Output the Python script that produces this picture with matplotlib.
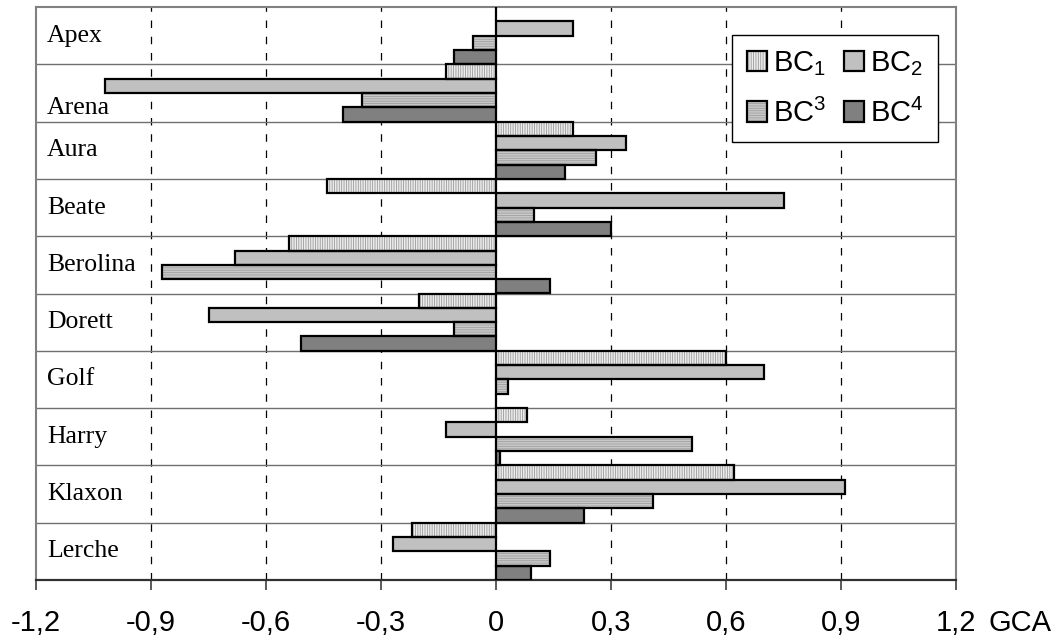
import matplotlib
matplotlib.use('Agg')
import matplotlib.pyplot as plt
import numpy as np

plt.rcParams['font.family'] = ['Liberation Sans', 'DejaVu Sans']
plt.rcParams['mathtext.fontset'] = 'custom'
plt.rcParams['mathtext.rm'] = 'Liberation Sans'
plt.rcParams['mathtext.it'] = 'Liberation Sans'
plt.rcParams['hatch.linewidth'] = 0.6

# Sorten und GCA-Werte je Testerpaar
sorten = ["Apex", "Arena", "Aura", "Beate", "Berolina", "Dorett", "Golf", "Harry", "Klaxon", "Lerche"]
bc1 = [0.00, -0.13, 0.20, -0.44, -0.54, -0.20, 0.60, 0.08, 0.62, -0.22]
bc2 = [0.20, -1.02, 0.34, 0.75, -0.68, -0.75, 0.70, -0.13, 0.91, -0.27]
bc3 = [-0.06, -0.35, 0.26, 0.10, -0.87, -0.11, 0.03, 0.51, 0.41, 0.14]
bc4 = [-0.11, -0.40, 0.18, 0.30, 0.14, -0.51, 0.00, 0.01, 0.23, 0.09]
labels = [r"BC$_1$", r"BC$_2$", r"BC$^3$", r"BC$^4$"]
xticks = [-1.2, -0.9, -0.6, -0.3, 0, 0.3, 0.6, 0.9, 1.2]

styles = [
    dict(color='#ececec', hatch='|||||||', hcol='#9a9a9a'),
    dict(color='#c0c0c0', hatch=None, hcol='#c0c0c0'),
    dict(color='#c8c8c8', hatch='-------', hcol='#a0a0a0'),
    dict(color='#808080', hatch=None, hcol='#808080'),
]

fig = plt.figure(figsize=(10.56, 6.41), dpi=100)
ax = fig.add_axes([36/1056, 1-580/641, 920/1056, 573/641])

y = np.arange(len(sorten))
h = 0.25
handles = []
for k, vals in enumerate([bc1, bc2, bc3, bc4]):
    pos = y - 0.375 + k*h
    st = styles[k]
    b1 = ax.barh(pos, vals, height=h, color=st['color'], hatch=st['hatch'],
                 edgecolor=st['hcol'], linewidth=0, zorder=3)
    b2 = ax.barh(pos, vals, height=h, fill=False, edgecolor='black',
                 linewidth=1.6, zorder=4)
    handles.append((b1.patches[0], b2.patches[0]))

# Trennlinien zwischen den Sorten
for i in range(len(sorten) - 1):
    ax.axhline(i + 0.5, color='#707070', lw=1.0, zorder=2)

# gestrichelte Gitterlinien
for gx in [-0.9, -0.6, -0.3, 0.3, 0.6, 0.9]:
    ax.axvline(gx, color='black', lw=0.9, ls=(0, (6, 7)), zorder=1)
ax.axvline(0, color='black', lw=1.4, zorder=5)

ax.set_xlim(-1.2, 1.2)
ax.set_ylim(len(sorten) - 0.5, -0.5)
ax.set_yticks([])
ax.set_xticks(xticks)
ax.set_xticklabels([('%g' % t).replace('.', ',') for t in xticks], fontsize=21)
ax.tick_params(axis='x', length=7, width=1.2, color='#404040', pad=14)

for s in ['left', 'top', 'right']:
    ax.spines[s].set_color('#808080')
    ax.spines[s].set_linewidth(1.5)
ax.spines['bottom'].set_color('#303030')
ax.spines['bottom'].set_linewidth(1.6)

# Sortennamen
for i, name in enumerate(sorten):
    yy = i + 0.27 if name == "Arena" else i
    ax.text(0.012, yy, name, transform=ax.get_yaxis_transform(), ha='left', va='center',
            fontsize=18.5, family=['Liberation Serif', 'DejaVu Serif'], zorder=6)

# Legende zeilenweise: BC1 BC2 / BC3 BC4
order = [0, 2, 1, 3]
leg = ax.legend([handles[i] for i in order], [labels[i] for i in order], ncol=2,
                loc='upper left', bbox_to_anchor=(0.757, 0.952),
                fontsize=21, frameon=True, fancybox=False, edgecolor='black',
                handlelength=0.7, handleheight=0.7, handletextpad=0.2,
                columnspacing=0.6, labelspacing=0.7, borderpad=0.5, framealpha=1,
                borderaxespad=0)
leg.get_frame().set_linewidth(1.0)
leg.set_zorder(10)

fig.text(988/1056, 1-623/641, "GCA", fontsize=21, ha='left', va='center')

plt.savefig("out.png", dpi=100)
